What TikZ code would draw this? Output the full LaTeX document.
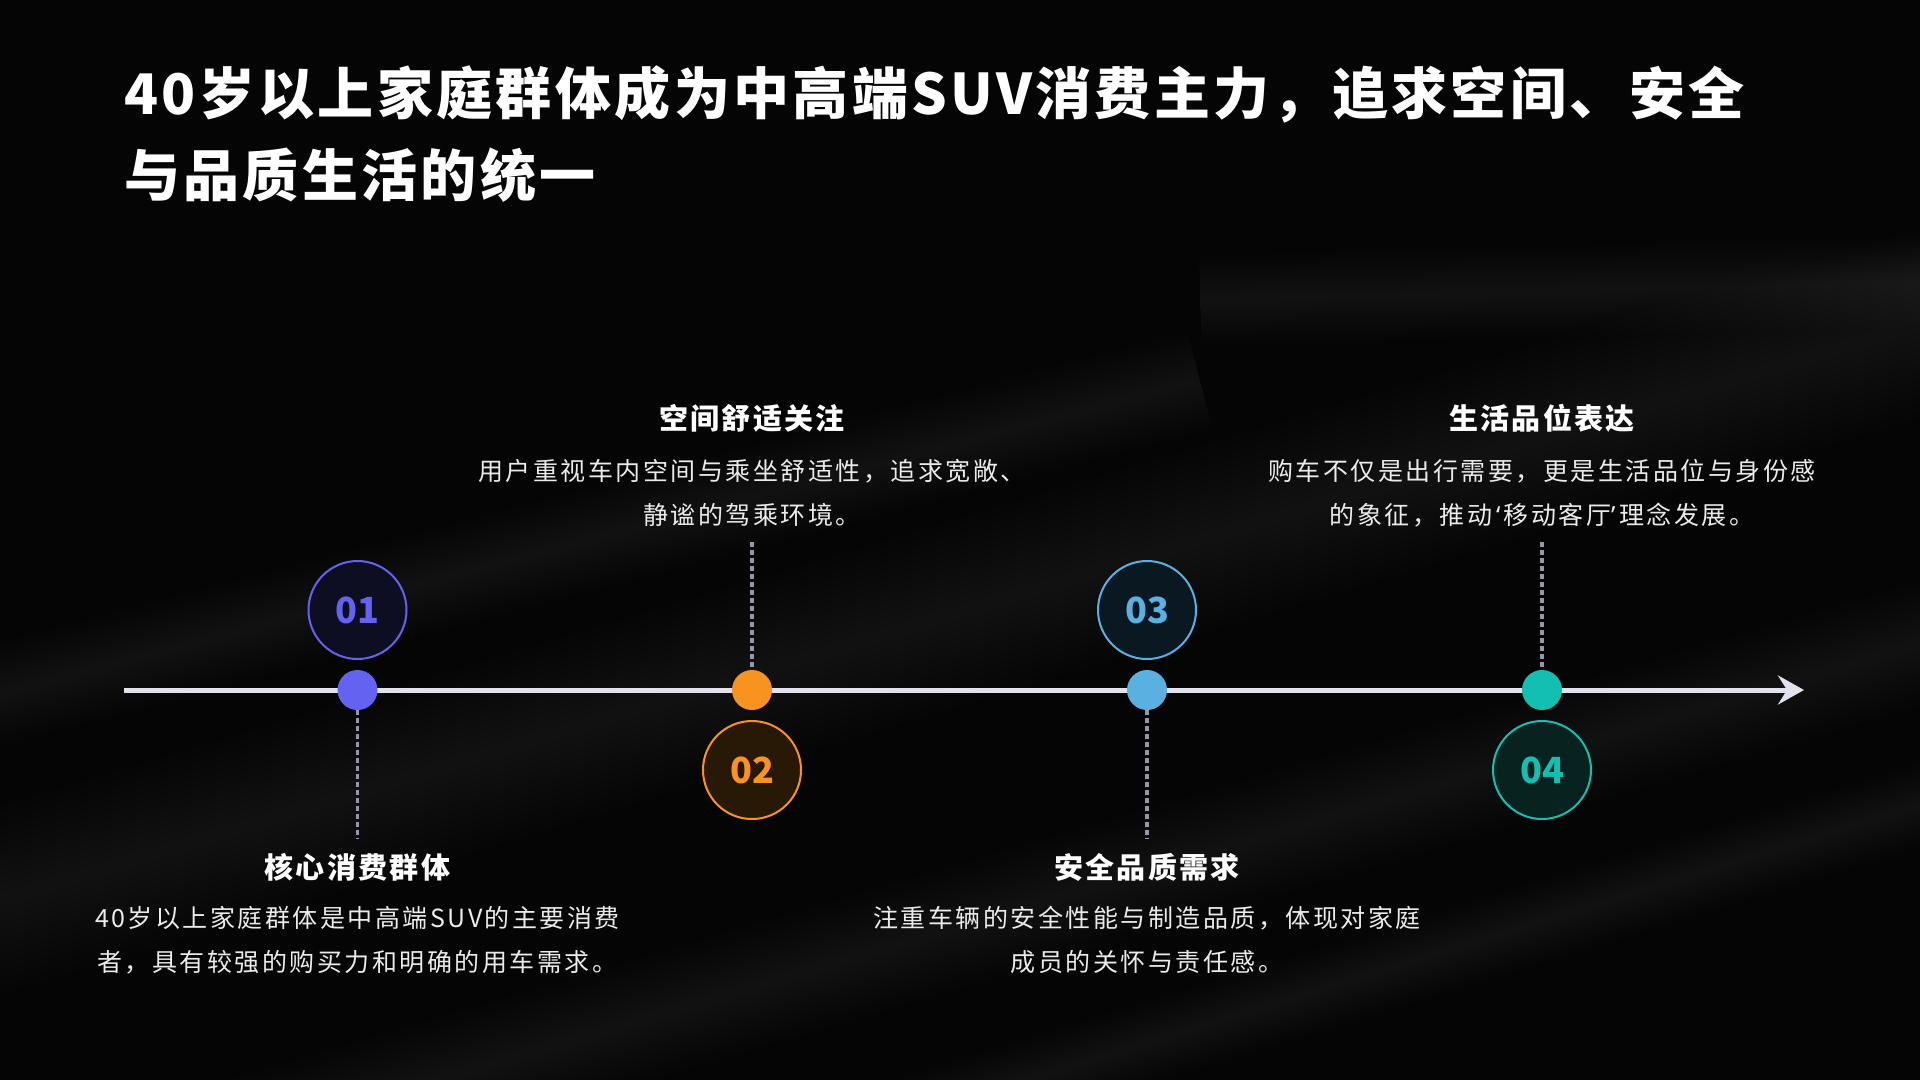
\documentclass[tikz,border=0pt]{standalone}
\usepackage{fontspec}
\setmainfont{Noto Sans CJK SC}
\newfontfamily\quotefont{Noto Sans}
\usetikzlibrary{arrows.meta,calc}
\definecolor{bgc}{HTML}{050505}
\definecolor{cA}{HTML}{6462F0}
\definecolor{cB}{HTML}{F7931E}
\definecolor{cC}{HTML}{5BB0E2}
\definecolor{cD}{HTML}{12BFB0}
\definecolor{fA}{HTML}{0E0E22}
\definecolor{fB}{HTML}{281806}
\definecolor{fC}{HTML}{0A1822}
\definecolor{fD}{HTML}{082220}
\definecolor{linec}{HTML}{E2E2EC}
\definecolor{dashc}{HTML}{9696A8}
\tikzset{
  timeline/.style={draw=linec, line width=5pt, -{Stealth[length=26pt,width=29pt,inset=9pt]}},
  dot/.style={circle, minimum size=40pt, inner sep=0pt, fill=#1},
  numcirc/.style={circle, minimum size=98pt, inner sep=0pt, draw=#1, line width=2pt, text=#1,
    font=\fontsize{36}{40}\selectfont\bfseries},
  guide/.style={draw=dashc, line width=3.5pt, dash pattern=on 4.5pt off 3.5pt},
  sectitle/.style={text=white, font=\fontsize{29}{34}\selectfont\bfseries\addfontfeature{LetterSpace=8}},
  desc/.style={text=white!92!black, align=center, font=\fontsize{25}{44}\selectfont\addfontfeature{LetterSpace=10}},
  heading/.style={text=white, align=left, anchor=north west,
    font=\fontsize{56}{82}\selectfont\bfseries\addfontfeature{LetterSpace=6}},
  streak/.style={white, opacity=0.009},
}
\newcommand\softband[3]{%
  \foreach \k in {1,...,12}{%
    \pgfmathsetmacro\w{#3*\k/12}%
    \fill[streak] ($(#1)!\w pt!90:(#2)$) -- ($(#2)!\w pt!-90:(#1)$) -- ($(#2)!\w pt!90:(#1)$) -- ($(#1)!\w pt!-90:(#2)$) -- cycle;
  }}
\begin{document}
\begin{tikzpicture}[x=1pt,y=-1pt]
\useasboundingbox (0,0) rectangle (1920,1080);
\fill[bgc] (0,0) rectangle (1920,1080);
% background streaks
\begin{scope}
\clip (0,0) rectangle (1920,1080);
\coordinate (s1a) at (-100,930);
\coordinate (s1b) at (2000,300);
\softband{s1a}{s1b}{90}
\coordinate (s2a) at (200,1150);
\coordinate (s2b) at (2000,620);
\softband{s2a}{s2b}{60}
\coordinate (s3a) at (1200,300);
\coordinate (s3b) at (2000,280);
\softband{s3a}{s3b}{45}
\coordinate (s4a) at (-100,720);
\coordinate (s4b) at (1200,380);
\softband{s4a}{s4b}{50}
\coordinate (s5a) at (800,1150);
\coordinate (s5b) at (2000,780);
\softband{s5a}{s5b}{40}
\end{scope}
% title
\node[heading, inner sep=0pt] (title) at (124,65) {40岁以上家庭群体成为中高端SUV消费主力，追求空间、安全\\与品质生活的统一};
% timeline
\coordinate (tstart) at (124,690);
\coordinate (tend) at (1804,690);
\draw[timeline] (tstart) -- (tend);
% guide ends
\coordinate (g1) at (357.5,839);
\coordinate (g2) at (752,542);
\coordinate (g3) at (1147,839);
\coordinate (g4) at (1542,542);
% dots
\node[dot=cA] (d1) at (357.5,690) {};
\node[dot=cB] (d2) at (752,690) {};
\node[dot=cC] (d3) at (1147,690) {};
\node[dot=cD] (d4) at (1542,690) {};
\draw[guide] (d1.south) -- (g1);
\draw[guide] (g2) -- (d2.north);
\draw[guide] (d3.south) -- (g3);
\draw[guide] (g4) -- (d4.north);
% number circles
\node[numcirc=cA, fill=fA] (n1) at (357.5,610) {01};
\node[numcirc=cB, fill=fB] (n2) at (752,770) {02};
\node[numcirc=cC, fill=fC] (n3) at (1147,610) {03};
\node[numcirc=cD, fill=fD] (n4) at (1542,770) {04};
% texts
\node[sectitle] (t1) at (357.5,867) {核心消费群体};
\node[desc] (x1) at (357.5,940) {40岁以上家庭群体是中高端SUV的主要消费\\者，具有较强的购买力和明确的用车需求。};
\node[sectitle] (t2) at (752,418) {空间舒适关注};
\node[desc] (x2) at (752,493) {用户重视车内空间与乘坐舒适性，追求宽敞、\\静谧的驾乘环境。};
\node[sectitle] (t3) at (1147,867) {安全品质需求};
\node[desc] (x3) at (1147,940) {注重车辆的安全性能与制造品质，体现对家庭\\成员的关怀与责任感。};
\node[sectitle] (t4) at (1542,418) {生活品位表达};
\node[desc] (x4) at (1542,493) {购车不仅是出行需要，更是生活品位与身份感\\的象征，推动\hspace{4pt}{\quotefont ‘}\hspace{3pt}移动客厅{\quotefont ’}\hspace{4pt}理念发展。};
\end{tikzpicture}
\end{document}
